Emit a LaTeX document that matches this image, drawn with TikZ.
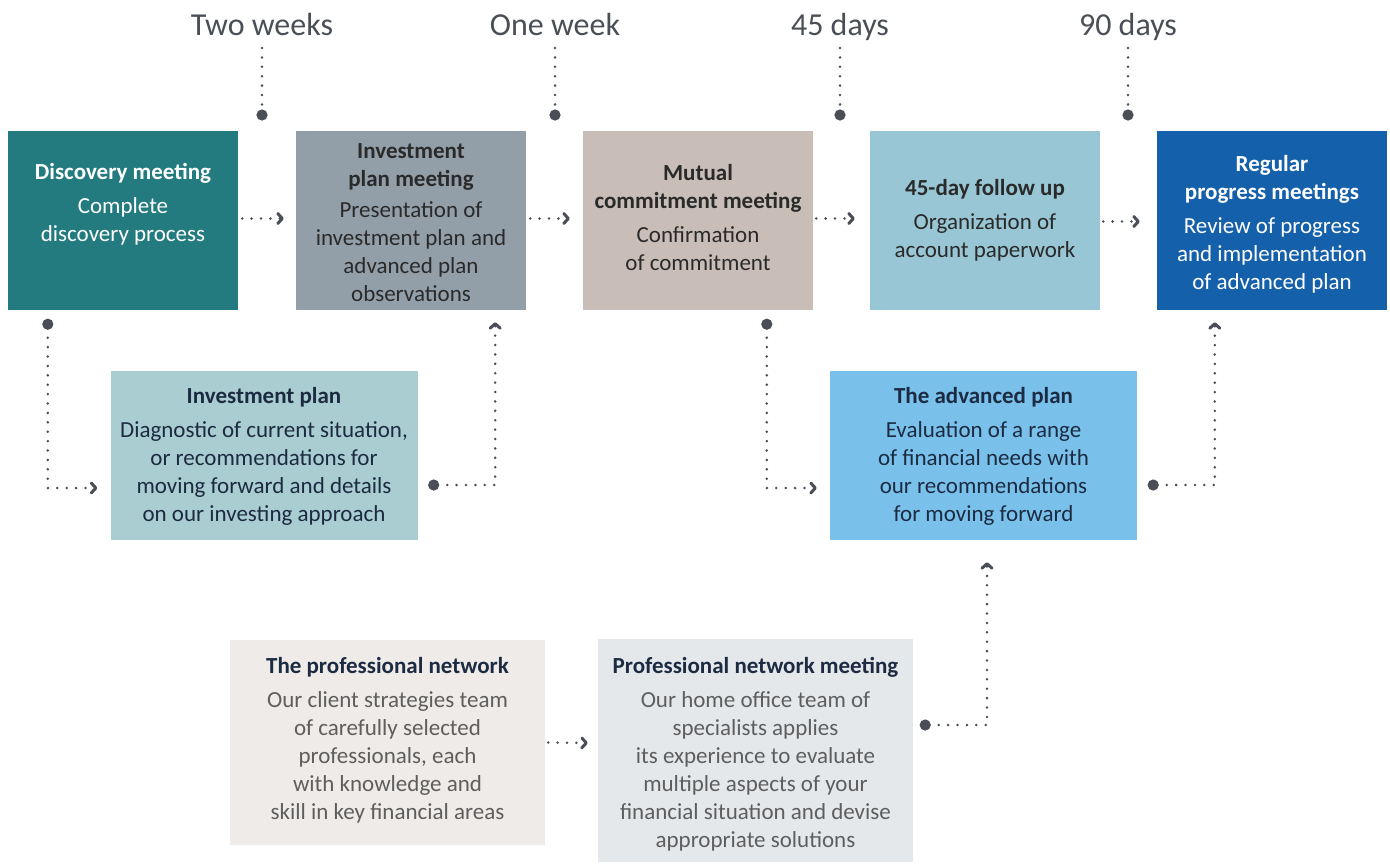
\documentclass[tikz,border=0pt]{standalone}
\usepackage{fontspec}
\setmainfont{Carlito}
\usetikzlibrary{arrows.meta,positioning}

\definecolor{discoverycol}{HTML}{237B80}
\definecolor{meetingcol}{HTML}{939FA8}
\definecolor{mutualcol}{HTML}{C8BEB7}
\definecolor{followcol}{HTML}{98C6D5}
\definecolor{regularcol}{HTML}{1560AA}
\definecolor{plancol}{HTML}{A9CDD0}
\definecolor{advancedcol}{HTML}{79C1EB}
\definecolor{networkcol}{HTML}{EFEBE8}
\definecolor{netmeetcol}{HTML}{E5E8EB}
\definecolor{dotcol}{HTML}{4A4F57}
\definecolor{navy}{HTML}{1C2B42}
\definecolor{darktext}{HTML}{2A2A2A}
\definecolor{softtext}{HTML}{5E5E5E}

\newcommand\head[1]{{\bfseries #1}}

\begin{document}
\begin{tikzpicture}[
  x=1pt, y=-1pt,
  font=\fontsize{23}{28}\selectfont,
  >={Straight Barb[length=4.5pt, width=10pt, line width=3pt, round]},
  stage/.style={inner sep=0pt, minimum width=230pt, minimum height=179pt},
  panel/.style={inner sep=0pt, minimum width=307pt, minimum height=169pt},
  desc/.style={align=center, inner sep=0pt, text=darktext},
  when/.style={font=\fontsize{32}{36}\selectfont, text=dotcol, anchor=base},
  link/.style={draw=dotcol, line width=2.8pt, line cap=round,
    dash pattern=on 0pt off 9.4pt},
  dotted link/.style={link, {Circle[length=11pt]}->},
  tick/.style={link, -{Circle[length=11pt]}}
]
  \useasboundingbox (0,0) rectangle (1390,863);

  % timeline labels
  \node[when] (twoweeks) at (262,35) {Two weeks};
  \node[when] (oneweek) at (555,35) {One week};
  \node[when] (days45) at (840,35) {45 days};
  \node[when] (days90) at (1128,35) {90 days};

  % top row
  \node[stage, fill=discoverycol] (discovery) at (123,220.5) {};
  \node[stage, fill=meetingcol] (meeting) at (411,220.5) {};
  \node[stage, fill=mutualcol] (mutual) at (698,220.5) {};
  \node[stage, fill=followcol] (follow) at (985,220.5) {};
  \node[stage, fill=regularcol] (regular) at (1272,220.5) {};

  \node[desc, text=white] (discovery-text) at (123,204)
    {\head{Discovery meeting}\\[6pt]Complete\\discovery process};
  \node[desc] (meeting-text) at (411,223)
    {\head{Investment}\\\head{plan meeting}\\[3pt]Presentation of\\investment plan and\\advanced plan\\observations};
  \node[desc] (mutual-text) at (698,218)
    {\head{Mutual}\\\head{commitment meeting}\\[6pt]Confirmation\\of commitment};
  \node[desc] (follow-text) at (985,220)
    {\head{45-day follow up}\\[6pt]Organization of\\account paperwork};
  \node[desc, text=white] (regular-text) at (1272,224)
    {\head{Regular}\\\head{progress meetings}\\[6pt]Review of progress\\and implementation\\of advanced plan};

  % plans
  \node[panel, fill=plancol] (plan) at (264,455.5) {};
  \node[panel, fill=advancedcol] (advanced) at (983.5,455.5) {};
  \node[desc, text=navy] (plan-text) at (264,456)
    {\head{Investment plan}\\[6pt]Diagnostic of current situation,\\or recommendations for\\moving forward and details\\on our investing approach};
  \node[desc, text=navy] (advanced-text) at (983.5,456)
    {\head{The advanced plan}\\[6pt]Evaluation of a range\\of financial needs with\\our recommendations\\for moving forward};

  % network
  \node[inner sep=0pt, minimum width=315pt, minimum height=205pt, fill=networkcol] (network) at (387.5,742.5) {};
  \node[inner sep=0pt, minimum width=315pt, minimum height=223pt, fill=netmeetcol] (netmeet) at (755.5,750.5) {};
  \node[desc, text=softtext] (network-text) at (387.5,740)
    {\textcolor{navy}{\head{The professional network}}\\[6pt]Our client strategies team\\of carefully selected\\professionals, each\\with knowledge and\\skill in key financial areas};
  \node[desc, text=softtext] (netmeet-text) at (755.5,754)
    {\textcolor{navy}{\head{Professional network meeting}}\\[6pt]Our home office team of\\specialists applies\\its experience to evaluate\\multiple aspects of your\\financial situation and devise\\appropriate solutions};

  % ticks under the labels
  \draw[tick] (twoweeks |- 0,48) -- (twoweeks |- 0,120.5);
  \draw[tick] (oneweek |- 0,48) -- (oneweek |- 0,120.5);
  \draw[tick] (days45 |- 0,48) -- (days45 |- 0,120.5);
  \draw[tick] (days90 |- 0,48) -- (days90 |- 0,120.5);

  % flow along the top
  \draw[link, ->] ([xshift=4pt,yshift=2pt]discovery.east) -- ([xshift=-12pt,yshift=2pt]meeting.west);
  \draw[link, ->] ([xshift=4pt,yshift=2pt]meeting.east) -- ([xshift=-13pt,yshift=2pt]mutual.west);
  \draw[link, ->] ([xshift=3pt,yshift=2pt]mutual.east) -- ([xshift=-15pt,yshift=2pt]follow.west);
  \draw[link, ->] ([xshift=3pt,yshift=-1pt]follow.east) -- ([xshift=-17pt,yshift=-1pt]regular.west);

  % side loops
  \draw[dotted link] ([xshift=40pt,yshift=-8.5pt]discovery.south west) |- ([xshift=-13pt,yshift=-32.5pt]plan.west);
  \draw[dotted link] ([xshift=10.5pt,yshift=-29.5pt]plan.east) -| ([xshift=-31pt,yshift=-12pt]meeting.south east);
  \draw[dotted link] ([xshift=184pt,yshift=-8.5pt]mutual.south west) |- ([xshift=-13pt,yshift=-32.5pt]advanced.west);
  \draw[dotted link] ([xshift=10.5pt,yshift=-29.5pt]advanced.east) -| ([xshift=58pt,yshift=-12pt]regular.south west);
  \draw[link, ->] ([xshift=3pt]network.east) -- ([xshift=-10pt,yshift=7.5pt]netmeet.west);
  \draw[dotted link] ([xshift=6.5pt,yshift=25.5pt]netmeet.east) -| ([xshift=3.5pt,yshift=-22pt]advanced.south);
\end{tikzpicture}
\end{document}
